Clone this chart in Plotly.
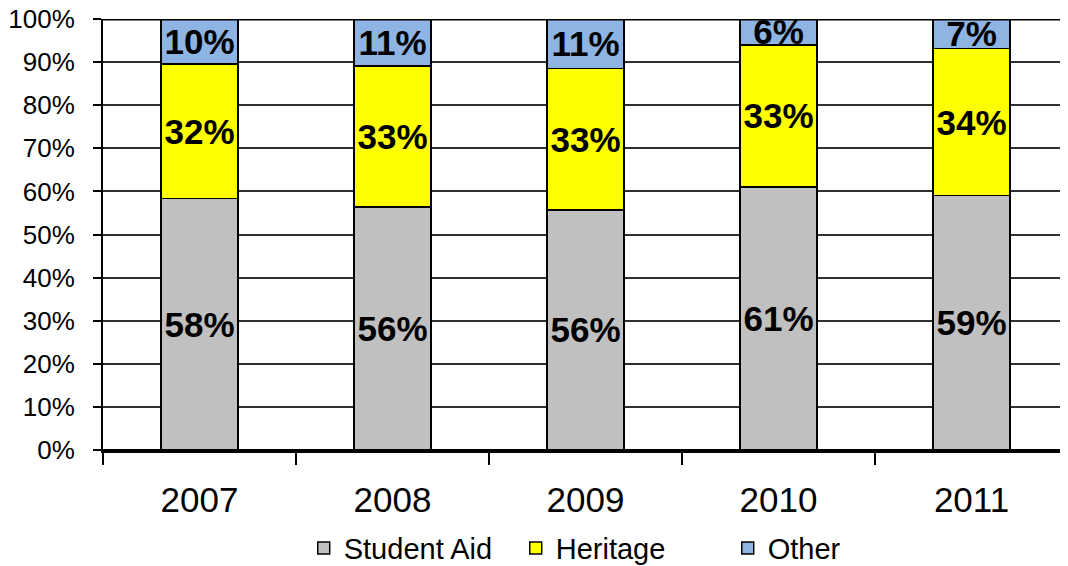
import plotly.graph_objects as go

years = ["2007", "2008", "2009", "2010", "2011"]
student_aid = [58.4, 56.4, 55.7, 61.0, 59.1]
heritage = [31.2, 32.7, 32.8, 33.0, 34.0]
other = [10.4, 10.9, 11.5, 6.0, 6.9]
student_aid_labels = ["58%", "56%", "56%", "61%", "59%"]
heritage_labels = ["32%", "33%", "33%", "33%", "34%"]
other_labels = ["10%", "11%", "11%", "6%", "7%"]

series = [
    ("Student Aid", student_aid, student_aid_labels, "#C0C0C0"),
    ("Heritage", heritage, heritage_labels, "#FFFF00"),
    ("Other", other, other_labels, "#8EB4E3"),
]

fig = go.Figure()
for name, vals, labels, color in series:
    fig.add_trace(go.Bar(
        x=years, y=vals, name=name, text=labels,
        textposition="inside", insidetextanchor="middle",
        constraintext="none", textangle=0,
        textfont=dict(family="Liberation Sans, Arial", size=35, color="black", weight="bold"),
        marker=dict(color=color, line=dict(color="black", width=1.5)),
        hoverinfo="skip",
    ))

# page body adds an 8px offset, so the figure is sized to fit the window
fig.update_layout(
    barmode="stack",
    bargap=0.6,
    width=1060, height=558,
    margin=dict(l=95, r=0, t=11, b=116, autoexpand=False),
    paper_bgcolor="white", plot_bgcolor="white",
    font=dict(family="Liberation Sans, Arial", color="black"),
    showlegend=True,
    legend=dict(
        orientation="h", x=0.208, xanchor="left",
        yref="container", y=0.032, yanchor="middle",
        font=dict(size=29), itemwidth=30, entrywidth=167, traceorder="normal",
    ),
    uniformtext=dict(mode=False),
)

fig.update_yaxes(
    range=[0, 100], dtick=10, ticksuffix="%",
    tickfont=dict(size=26), ticklabeloverflow="allow",
    showgrid=True, gridcolor="#303030", gridwidth=1.5,
    ticks="outside", ticklen=8, tickcolor="black", tickwidth=1.5,
    showline=True, linecolor="black", linewidth=2,
    zeroline=True, zerolinecolor="black", zerolinewidth=2.5,
    ticklabelstandoff=13, automargin=False,
)
fig.update_xaxes(
    tickfont=dict(size=35),
    ticks="outside", tickson="boundaries", ticklen=12, tickcolor="black", tickwidth=1.5,
    showline=True, linecolor="black", linewidth=2.5,
    ticklabelstandoff=17, automargin=False,
)

fig.add_shape(type="line", xref="paper", yref="y", x0=0, x1=1, y0=100, y1=100,
              line=dict(color="black", width=3))

fig.write_html("out.html")
